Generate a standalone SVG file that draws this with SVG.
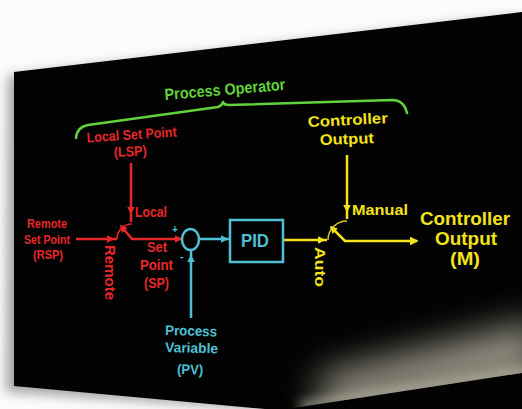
<svg xmlns="http://www.w3.org/2000/svg" width="522" height="409" viewBox="0 0 522 409">
<defs>
<style>
text{font-family:"Liberation Sans",Arial,sans-serif;font-weight:bold;}
.r{fill:#e8272a}.g{fill:#62d23c}.y{fill:#f4e31a}.c{fill:#4fc0d4}
.lr{stroke:#e8272a;fill:none;stroke-width:2.5}
.ly{stroke:#f4e31a;fill:none;stroke-width:2.5}
.lc{stroke:#4fc0d4;fill:none;stroke-width:2.5}
.lg{stroke:#62d23c;fill:none;stroke-width:2.5;stroke-linecap:round;stroke-linejoin:round}
</style>
<filter id="sh" x="-20%" y="-20%" width="140%" height="140%"><feGaussianBlur stdDeviation="6"/></filter>
<filter id="gb" x="-50%" y="-200%" width="200%" height="500%"><feGaussianBlur stdDeviation="18"/></filter>
<filter id="gb2" x="-50%" y="-200%" width="200%" height="500%"><feGaussianBlur stdDeviation="6"/></filter>
<clipPath id="gc"><polygon points="200,409 287,409 522,373 522,200 200,200"/></clipPath>
<marker id="ar" viewBox="0 0 10 10" refX="8" refY="5" markerWidth="3" markerHeight="3" orient="auto-start-reverse" markerUnits="strokeWidth"><path d="M0,0L10,5L0,10z" fill="#e8272a"/></marker>
<marker id="ay" viewBox="0 0 10 10" refX="8" refY="5" markerWidth="3" markerHeight="3" orient="auto-start-reverse" markerUnits="strokeWidth"><path d="M0,0L10,5L0,10z" fill="#f4e31a"/></marker>
<marker id="ayb" viewBox="0 0 10 10" refX="8" refY="5" markerWidth="4.5" markerHeight="3.5" orient="auto" markerUnits="strokeWidth"><path d="M0,0L10,5L0,10z" fill="#f4e31a"/></marker>
<marker id="ac" viewBox="0 0 10 10" refX="8" refY="5" markerWidth="3" markerHeight="3" orient="auto" markerUnits="strokeWidth"><path d="M0,0L10,5L0,10z" fill="#4fc0d4"/></marker>
</defs>
<rect width="522" height="409" fill="#fbfbfb"/>
<polygon points="8,76 522,16 522,409 265,409 6,392" fill="#000" opacity="0.35" filter="url(#sh)"/>
<polygon id="board" points="14,72 522,12 522,409 265,409 14,386" fill="#030303"/>
<g clip-path="url(#gc)">
<polygon points="320,415 540,379 540,320 320,375" fill="#d6d2be" opacity="0.7" filter="url(#gb)"/>
<polygon points="300,412 540,376 540,364 300,402" fill="#d8d4c0" opacity="0.65" filter="url(#gb2)"/>
</g>

<g id="connectors">
<path class="lg" d="M76,138 Q77,127 88,125 L218,107 Q222,106 223,102 Q224,105 229,105 L392,100 Q404,100 407,113"/>
<polyline class="lr" points="76,239 113,239 117,239" marker-mid="url(#ar)"/>
<polyline class="lr" points="131,163 131,213 131,222" marker-mid="url(#ar)"/>
<path d="M117,239 A15,15 0 0 1 132,224" stroke="#e8272a" stroke-width="1.5" fill="none"/>
<path class="lr" d="M121,226 L132,239 H181" marker-start="url(#ar)" marker-end="url(#ar)"/>
<polyline class="lc" points="199,239 227,239 231,239" marker-mid="url(#ac)"/>
<polyline class="lc" points="191,318 191,256 191,250" marker-mid="url(#ac)"/>
<polyline class="ly" points="283,240 324,240 327,240" marker-mid="url(#ay)"/>
<polyline class="ly" points="347,155 347,211 347,219" marker-mid="url(#ay)"/>
<path d="M328,240 A19,19 0 0 1 347,221" stroke="#d8c82a" stroke-width="1.5" fill="none"/>
<path class="ly" d="M331,227 L345,241 H417" marker-start="url(#ay)" marker-end="url(#ayb)"/>
</g>

<g id="process-operator">
<text class="g" x="165" y="100" font-size="16" textLength="121" lengthAdjust="spacingAndGlyphs" transform="rotate(-4.8 165 100)">Process Operator</text>
</g>
<g id="local-set-point">
<text class="r" x="87" y="142.5" font-size="14" textLength="90" lengthAdjust="spacingAndGlyphs" transform="rotate(-3.8 87 142.5)">Local Set Point</text>
<text class="r" x="114" y="157" font-size="14" textLength="33" lengthAdjust="spacingAndGlyphs" transform="rotate(-3 114 157)">(LSP)</text>
</g>
<g id="remote-set-point">
<text class="r" x="27" y="228" font-size="13" textLength="40" lengthAdjust="spacingAndGlyphs">Remote</text>
<text class="r" x="24" y="244" font-size="13" textLength="46" lengthAdjust="spacingAndGlyphs">Set Point</text>
<text class="r" x="33" y="259" font-size="13" textLength="30" lengthAdjust="spacingAndGlyphs">(RSP)</text>
</g>
<g id="sp-switch">
<text class="r" x="135" y="217" font-size="14" textLength="32" lengthAdjust="spacingAndGlyphs">Local</text>
<text class="r" x="105" y="245" font-size="14" textLength="55" lengthAdjust="spacingAndGlyphs" transform="rotate(90 105 245)">Remote</text>
</g>
<g id="set-point">
<text class="r" x="147" y="252" font-size="14" textLength="20" lengthAdjust="spacingAndGlyphs">Set</text>
<text class="r" x="140" y="270" font-size="14" textLength="33" lengthAdjust="spacingAndGlyphs">Point</text>
<text class="r" x="144" y="288" font-size="14" textLength="25" lengthAdjust="spacingAndGlyphs">(SP)</text>
</g>
<g id="summing-junction">
<ellipse cx="190.5" cy="239.5" rx="8.5" ry="10.5" fill="none" stroke="#4fc0d4" stroke-width="2.5"/>
<text class="c" x="172" y="233" font-size="10">+</text>
<text class="c" x="180" y="260" font-size="11">-</text>
</g>
<g id="pid">
<rect x="230" y="220" width="53" height="42" fill="none" stroke="#4fc0d4" stroke-width="2.5"/>
<text class="c" x="241" y="247" font-size="18" textLength="28" lengthAdjust="spacingAndGlyphs">PID</text>
</g>
<g id="process-variable">
<text class="c" x="165" y="335" font-size="14" textLength="52" lengthAdjust="spacingAndGlyphs" transform="rotate(1.5 165 335)">Process</text>
<text class="c" x="165" y="352" font-size="14" textLength="53" lengthAdjust="spacingAndGlyphs" transform="rotate(1.5 165 352)">Variable</text>
<text class="c" x="177" y="374" font-size="14" textLength="26" lengthAdjust="spacingAndGlyphs" transform="rotate(1.5 177 374)">(PV)</text>
</g>
<g id="manual-output">
<text class="y" x="308" y="127" font-size="15" textLength="80" lengthAdjust="spacingAndGlyphs" transform="rotate(-2.8 308 127)">Controller</text>
<text class="y" x="320" y="145" font-size="15" textLength="54" lengthAdjust="spacingAndGlyphs" transform="rotate(-2 320 145)">Output</text>
</g>
<g id="output-switch">
<text class="y" x="352" y="215" font-size="15" textLength="56" lengthAdjust="spacingAndGlyphs">Manual</text>
<text class="y" x="315" y="247" font-size="14" textLength="40" lengthAdjust="spacingAndGlyphs" transform="rotate(90 315 247)">Auto</text>
</g>
<g id="controller-output">
<text class="y" x="420" y="225" font-size="18" textLength="90" lengthAdjust="spacingAndGlyphs">Controller</text>
<text class="y" x="435" y="245" font-size="18" textLength="62" lengthAdjust="spacingAndGlyphs">Output</text>
<text class="y" x="450" y="265" font-size="18" textLength="30" lengthAdjust="spacingAndGlyphs">(M)</text>
</g>
</svg>
